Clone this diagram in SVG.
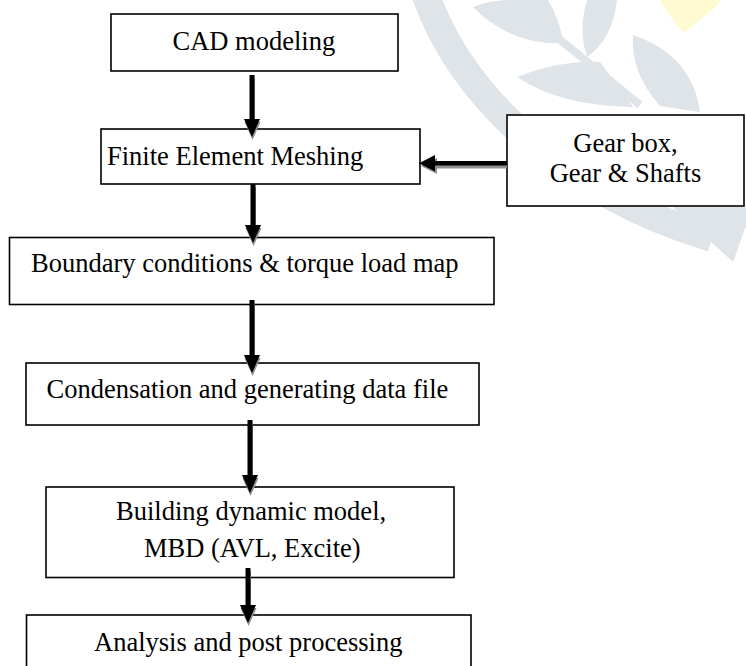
<svg xmlns="http://www.w3.org/2000/svg" width="746" height="666" viewBox="0 0 746 666">
<style>
.box{fill:#ffffff;stroke:#000000;stroke-width:1.6}
.lbl{font-family:"Liberation Serif","Times New Roman",serif;font-size:26.5px;fill:#000000}
.wm{fill:#dfe4e9}
.arr{fill:#000000}
.shd{fill:#8f8f8f}
</style>
<rect width="746" height="666" fill="#ffffff"/>
<g id="watermark">
<path d="M424,-10 C458,92 560,192 712,238" fill="none" stroke="#dfe4e9" stroke-width="28"/>
<path class="wm" d="M673,207 L746,207 L746,226 L733,262 Z"/>
<path class="wm" d="M473,7 Q490,0 510,0 L548,0 Q560,20 563,43 Q510,45 473,7 Z"/>
<path class="wm" d="M587,0 L617,0 Q612,40 587,57 Q578,30 587,0 Z"/>
<path d="M558,38 L640,105" fill="none" stroke="#dfe4e9" stroke-width="8"/>
<path class="wm" d="M517,77 Q560,60 600,62 L633,107 Q560,106 517,77 Z"/>
<path class="wm" d="M633,35 Q692,55 700,112 L660,106 Q630,72 633,35 Z"/>
<path d="M660,0 L722,0 Q702,20 683,33 Q668,15 660,0 Z" fill="#fffad2"/>
</g>
<g id="cad">
<rect class="box" x="111" y="14" width="287" height="57"/>
<text class="lbl" x="172.5" y="50">CAD modeling</text>
</g>
<g id="fem">
<rect class="box" x="101" y="129" width="319" height="55"/>
<text class="lbl" x="107" y="165">Finite Element Meshing</text>
</g>
<g id="gear">
<rect class="box" x="507" y="115" width="237" height="91"/>
<text class="lbl" x="625.5" y="152" text-anchor="middle">Gear box,</text>
<text class="lbl" x="625.5" y="182" text-anchor="middle">Gear &amp; Shafts</text>
</g>
<g id="boundary">
<rect class="box" x="9.5" y="237.5" width="484.5" height="67"/>
<text class="lbl" x="31" y="272">Boundary conditions &amp; torque load map</text>
</g>
<g id="condensation">
<rect class="box" x="26" y="363" width="453" height="62"/>
<text class="lbl" x="46.5" y="398">Condensation and generating data file</text>
</g>
<g id="building">
<rect class="box" x="46" y="487" width="408" height="90.5"/>
<text class="lbl" x="116" y="520">Building dynamic model,</text>
<text class="lbl" x="144" y="556.5">MBD (AVL, Excite)</text>
</g>
<g id="analysis">
<rect class="box" x="26.5" y="615" width="444.5" height="70"/>
<text class="lbl" x="94" y="650.5">Analysis and post processing</text>
</g>
<g id="connectors">
<g transform="translate(0.5,3)" class="shd">
<path d="M249.5,75 H254.5 V119 H260 L252,137 L244,119 H249.5 Z"/>
<path d="M250.5,184 H255.5 V225 H261 L253,243 L245,225 H250.5 Z"/>
<path d="M249.5,300 H254.5 V355 H260 L252,373 L244,355 H249.5 Z"/>
<path d="M247.5,420 H252.5 V475 H258 L250,493 L242,475 H247.5 Z"/>
<path d="M245.5,568 H250.5 V605 H256 L248,623 L240,605 H245.5 Z"/>
</g>
<path class="shd" d="M507,164 V168.5 H437 V174 L421,166 L437,158 V164 Z"/>
<path class="arr" d="M249.5,75 H254.5 V119 H260 L252,137 L244,119 H249.5 Z"/>
<path class="arr" d="M250.5,184 H255.5 V225 H261 L253,243 L245,225 H250.5 Z"/>
<path class="arr" d="M249.5,300 H254.5 V355 H260 L252,373 L244,355 H249.5 Z"/>
<path class="arr" d="M247.5,420 H252.5 V475 H258 L250,493 L242,475 H247.5 Z"/>
<path class="arr" d="M245.5,568 H250.5 V605 H256 L248,623 L240,605 H245.5 Z"/>
<path class="arr" d="M507,161 V165.5 H435 V171.5 L419,163.3 L435,155 V161 Z"/>
</g>
</svg>
